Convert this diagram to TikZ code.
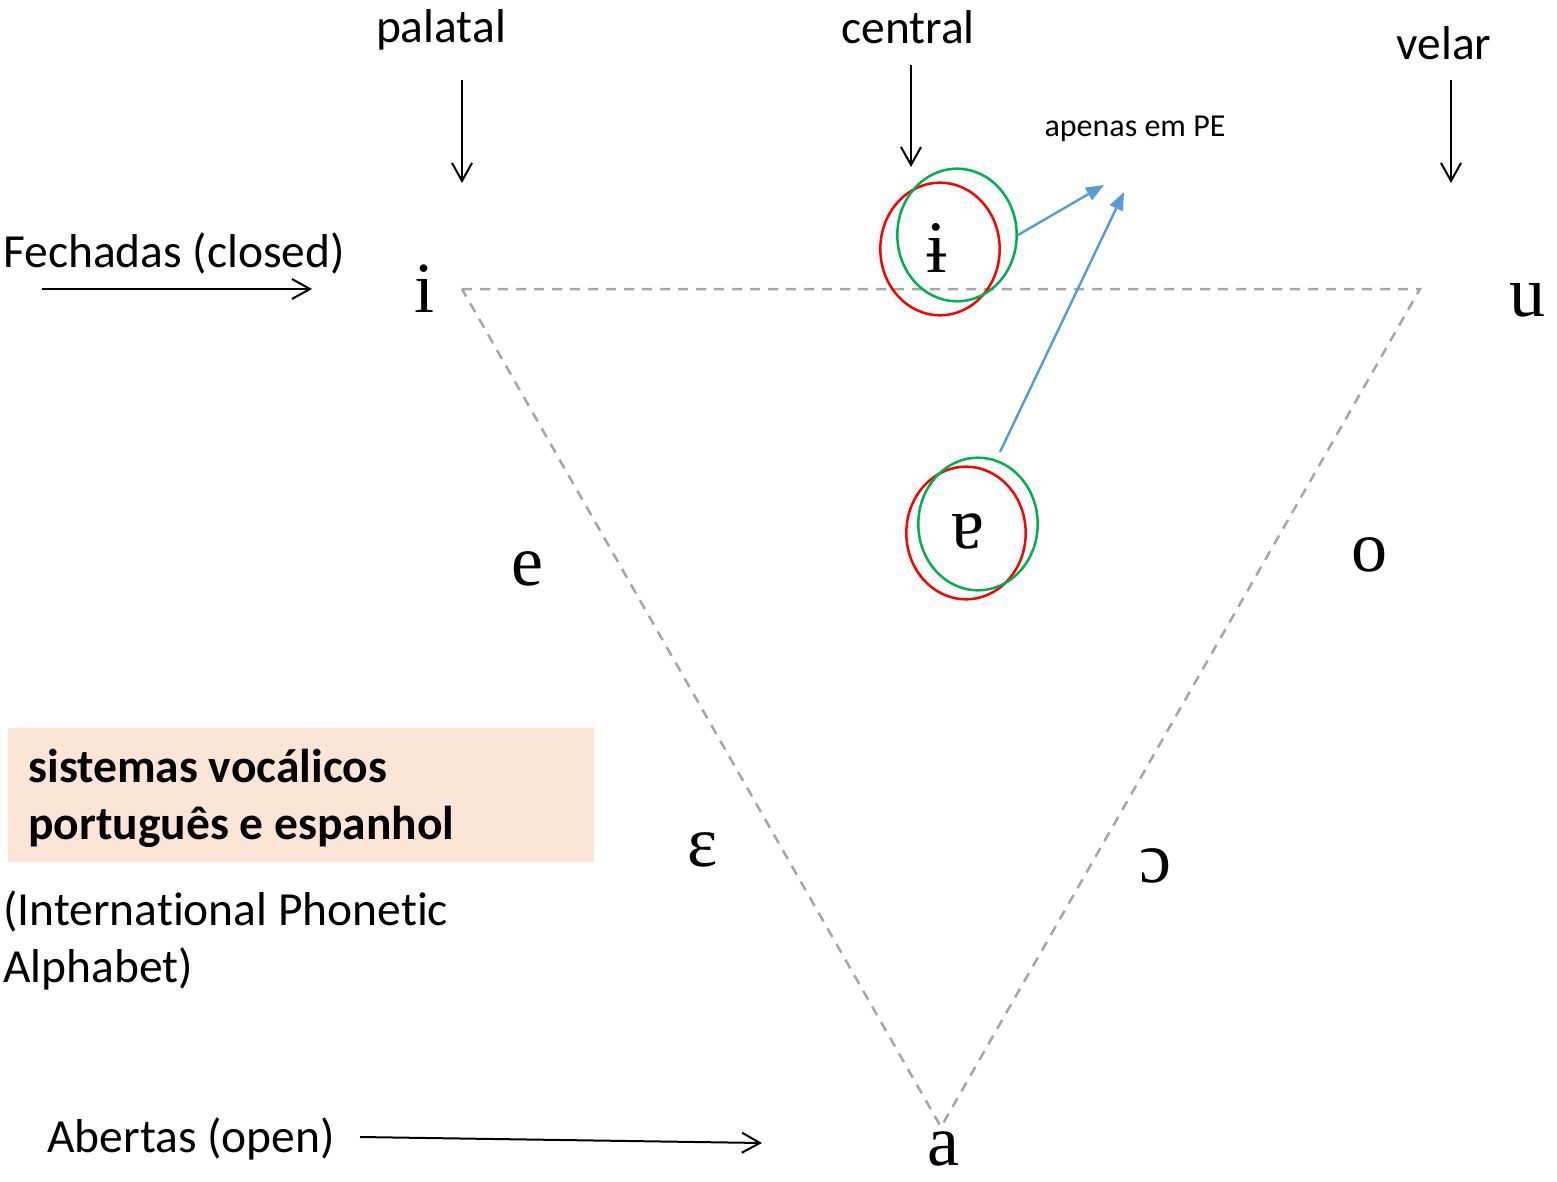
\documentclass[tikz,border=0pt]{standalone}
\usepackage{fontspec}
\setmainfont{Carlito}[Ligatures=NoCommon]
\newfontfamily\ipafont{Liberation Serif}
\usetikzlibrary{arrows.meta,shapes.geometric}

\definecolor{triGray}{HTML}{A6A6A6}
\definecolor{ringRed}{HTML}{FF0000}
\definecolor{ringGreen}{HTML}{00B050}
\definecolor{hintBlue}{HTML}{5B9BD5}
\definecolor{titleFill}{HTML}{FBE5D6}

\begin{document}
\begin{tikzpicture}[x=0.5pt,y=-0.5pt,
  lbl/.style={font=\fontsize{23.75}{28.5}\selectfont, inner sep=0pt},
  small/.style={font=\fontsize{16}{19}\selectfont, inner sep=0pt},
  vowel/.style={font=\ipafont\fontsize{36}{36}\selectfont, inner sep=0pt, text depth=0pt},
  marked/.style={font=\ipafont\fontsize{37}{37}\selectfont, inner sep=0pt},
  pointer/.style={draw=black, line width=1pt, -{Straight Barb[length=9pt,width=10pt]}},
  hint/.style={draw=hintBlue, line width=1.2pt, -{Triangle[length=9pt,width=7pt]}},
  tri/.style={draw=triGray, line width=1.25pt, dash pattern=on 5pt off 4pt},
  ring/.style={ellipse, draw, line width=1.25pt, inner sep=0pt,
    minimum width=59.7pt, minimum height=66.3pt},
]
\useasboundingbox (0,0) rectangle (1557,1182);

% vowel triangle
\coordinate (tl) at (462,289);
\coordinate (tr) at (1420,289);
\coordinate (bt) at (941,1127);
\draw[tri] (tl) -- (tr) -- (bt) -- cycle;

% column headings with their arrows
\node[lbl, anchor=base] (palatal) at (441,43) {palatal};
\node[lbl, anchor=base] (central) at (908,44) {central};
\node[lbl, anchor=base] (velar) at (1444,60) {velar};
\coordinate (palTop) at (462,80);  \coordinate (palEnd) at (462,183);
\coordinate (cenTop) at (911,65);  \coordinate (cenEnd) at (911,167);
\coordinate (velTop) at (1451,80); \coordinate (velEnd) at (1451,183);
\draw[pointer] (palTop) -- (palEnd);
\draw[pointer] (cenTop) -- (cenEnd);
\draw[pointer] (velTop) -- (velEnd);

% row headings
\node[lbl, anchor=base west] (closed) at (3,267) {Fechadas (closed)};
\coordinate (clA) at (42,289); \coordinate (clB) at (312,289);
\draw[pointer] (clA) -- (clB);
\node[lbl, anchor=base west] (open) at (47,1152) {Abertas (open)};
\coordinate (opA) at (360,1137); \coordinate (opB) at (762,1143);
\draw[pointer] (opA) -- (opB);

% vowels
\node[vowel, anchor=base] (vi) at (424,313) {i};
\node[vowel, anchor=base] (vu) at (1527,316) {u};
\node[vowel, anchor=base] (ve) at (527,585) {e};
\node[vowel, anchor=base] (vo) at (1369,571) {o};
\node[vowel, anchor=base] (veps) at (703,866) {ɛ};
\node[vowel, anchor=base] (vopen) at (1155,882) {ɔ};
\node[vowel, anchor=base] (va) at (943,1165) {a};
\node[marked, anchor=base] (vbar) at (937,272) {ɨ};
\node[marked, anchor=base] (vturn) at (968,548) {ɐ};

% highlight rings
\node[ring, draw=ringRed] (rA) at (940,249) {};
\node[ring, draw=ringGreen] (gA) at (957,235) {};
\node[ring, draw=ringRed] (rB) at (966,533) {};
\node[ring, draw=ringGreen] (gB) at (978,524) {};

% note on the central vowels
\node[small, anchor=base] (note) at (1135,137) {apenas em PE};
\coordinate (hintA) at (1104,185);
\coordinate (hintB) at (1124,192);
\coordinate (fromB) at (1000,452);
\draw[hint] (gA.east) -- (hintA);
\draw[hint] (fromB) -- (hintB);

% title box
\fill[titleFill] (8,728) rectangle (594,862);
\node[lbl, anchor=base west, font=\fontsize{23.75}{28.5}\selectfont\bfseries] (t1) at (28,782) {sistemas vocálicos};
\node[lbl, anchor=base west, font=\fontsize{23.75}{28.5}\selectfont\bfseries] (t2) at (28,839) {português e espanhol};
\node[lbl, anchor=base west] (ipa1) at (3,925) {(International Phonetic};
\node[lbl, anchor=base west] (ipa2) at (3,982) {Alphabet)};
\end{tikzpicture}
\end{document}
